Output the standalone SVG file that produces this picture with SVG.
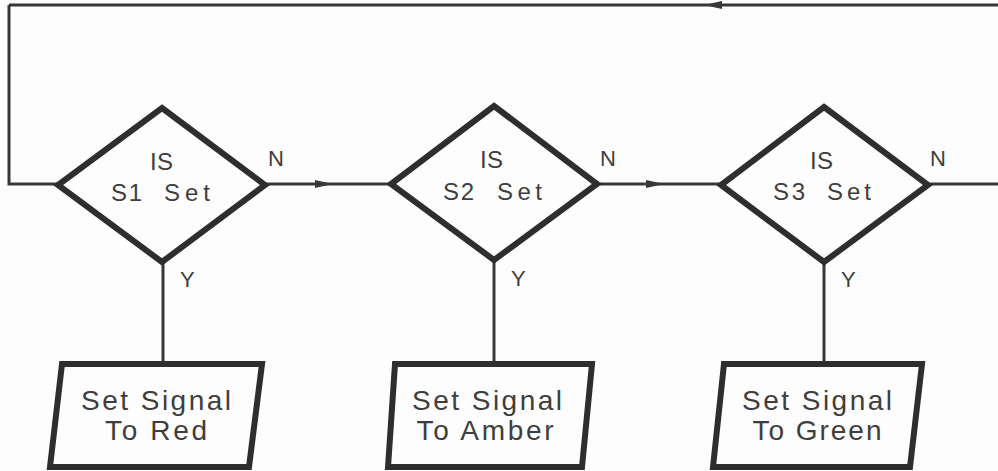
<svg xmlns="http://www.w3.org/2000/svg" width="998" height="471" viewBox="0 0 998 471">
<style>
.bg{fill:#fdfdfd}
.shape{fill:#fdfdfd;stroke:#2e2e2e;stroke-width:6;stroke-linejoin:miter}
.conn{fill:none;stroke:#383838;stroke-width:3}
.t{font-family:"Liberation Sans","DejaVu Sans",sans-serif;fill:#3e3e3e}
.dt{font-size:24px}
.bt{font-size:28px}
.lb{font-size:22px}
</style>
<defs>
<marker id="arr" viewBox="0 0 18 8" refX="18" refY="4" markerWidth="18" markerHeight="8" markerUnits="userSpaceOnUse" orient="auto">
<path d="M0,0 L18,4 L0,8 z" fill="#383838"/>
</marker>
</defs>
<rect class="bg" x="0" y="0" width="998" height="471"/>
<g id="connectors">
<path class="conn" d="M998,5 L704,5 L9,5" marker-mid="url(#arr)"/>
<path class="conn" d="M9,5 L9,184 L58,184"/>
<path class="conn" d="M265,184 L333,184 L391,184" marker-mid="url(#arr)"/>
<path class="conn" d="M597,184 L664,184 L721,184" marker-mid="url(#arr)"/>
<path class="conn" d="M928,184 L998,184"/>
<path class="conn" d="M163,262 L163,363"/>
<path class="conn" d="M494,260 L494,363"/>
<path class="conn" d="M824,262 L824,363"/>
<text class="t lb" x="268" y="166">N</text>
<text class="t lb" x="600" y="166">N</text>
<text class="t lb" x="930" y="166">N</text>
<text class="t lb" x="180" y="287">Y</text>
<text class="t lb" x="511" y="286">Y</text>
<text class="t lb" x="841" y="287">Y</text>
</g>
<g id="d1">
<polygon class="shape" points="162,108 265,185 162,262 58,185"/>
<text class="t dt" x="150" y="170" textLength="23" lengthAdjust="spacing">IS</text>
<text class="t dt" x="111" y="201" textLength="31" lengthAdjust="spacing">S1</text>
<text class="t dt" x="164" y="201" textLength="46" lengthAdjust="spacing">Set</text>
</g>
<g id="d2">
<polygon class="shape" points="494,106 597,184 494,260 391,184"/>
<text class="t dt" x="480" y="168" textLength="23" lengthAdjust="spacing">IS</text>
<text class="t dt" x="443" y="200" textLength="31" lengthAdjust="spacing">S2</text>
<text class="t dt" x="497" y="200" textLength="45" lengthAdjust="spacing">Set</text>
</g>
<g id="d3">
<polygon class="shape" points="824,107 928,185 824,262 721,185"/>
<text class="t dt" x="810" y="169" textLength="23" lengthAdjust="spacing">IS</text>
<text class="t dt" x="773" y="200" textLength="32" lengthAdjust="spacing">S3</text>
<text class="t dt" x="827" y="200" textLength="44" lengthAdjust="spacing">Set</text>
</g>
<g id="b1">
<polygon class="shape" points="62,364 262,364 249,467 50,467"/>
<text class="t bt" x="156" y="410" text-anchor="middle" textLength="150" lengthAdjust="spacing">Set Signal</text>
<text class="t bt" x="156" y="440" text-anchor="middle" textLength="102" lengthAdjust="spacing">To Red</text>
</g>
<g id="b2">
<polygon class="shape" points="395,364 592,364 582,467 388,467"/>
<text class="t bt" x="487" y="410" text-anchor="middle" textLength="150" lengthAdjust="spacing">Set Signal</text>
<text class="t bt" x="485" y="440" text-anchor="middle" textLength="137" lengthAdjust="spacing">To Amber</text>
</g>
<g id="b3">
<polygon class="shape" points="724,364 922,364 910,467 713,467"/>
<text class="t bt" x="817" y="410" text-anchor="middle" textLength="150" lengthAdjust="spacing">Set Signal</text>
<text class="t bt" x="817" y="440" text-anchor="middle" textLength="129" lengthAdjust="spacing">To Green</text>
</g>
</svg>
